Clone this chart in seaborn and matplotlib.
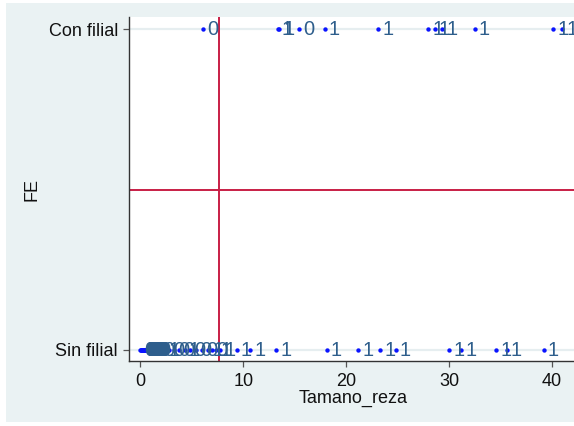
import numpy as np
import pandas as pd
import matplotlib
matplotlib.use("Agg")
import matplotlib.pyplot as plt
import seaborn as sns

# Firm size (Tamano_reza) for firms without a subsidiary (FE = 0)
sin_filial_x = [0.0, 0.05, 0.1, 0.15, 0.2, 0.25, 0.3, 0.35, 0.4, 0.45, 0.5, 0.55,
                0.6, 0.65, 0.7, 0.75, 0.8, 0.85, 0.9, 0.95, 1.0, 1.05, 1.1, 1.15,
                1.2, 1.3, 1.4, 1.8, 2.3, 2.8, 3.3, 3.8, 4.3, 4.8, 5.4,
                6.0, 6.6, 7.0, 7.35, 7.75, 9.35, 10.7, 13.2, 18.1, 21.2,
                23.3, 24.8, 30.0, 31.2, 34.6, 35.6, 39.2]
sin_filial_lab = [0, 0, 0, 0, 0, 0, 0, 0, 0, 0, 0, 0,
                  0, 0, 0, 0, 0, 0, 0, 0, 0, 0, 0, 0,
                  0, 0, 0, 0, 1, 0, 0, 0, 1, 0, 0,
                  0, 1, 0, 1, 1, 1, 1, 1, 1, 1,
                  1, 1, 1, 1, 1, 1, 1]

# Firm size for firms with a subsidiary (FE = 1)
con_filial_x = [6.1, 13.35, 13.5, 15.4, 17.9, 23.1, 28.0, 28.6, 29.3, 32.5, 40.1, 41.0]
con_filial_lab = [0, 1, 1, 0, 1, 1, 1, 1, 1, 1, 1, 1]

fe_ticks = [0, 1]
fe_ticklabels = ["Sin filial", "Con filial"]
x_ticks = [0, 10, 20, 30, 40]

# Reference lines
x_ref = 7.65
y_ref = 0.5

df = pd.DataFrame({
    "Tamano_reza": sin_filial_x + con_filial_x,
    "FE": [0] * len(sin_filial_x) + [1] * len(con_filial_x),
    "lab": sin_filial_lab + con_filial_lab,
})

sns.set_style("white")
plt.rcParams["font.family"] = ["Liberation Sans", "DejaVu Sans"]

W, H = 574, 426
fig = plt.figure(figsize=(W / 100, H / 100), dpi=100, facecolor="white")

# Graph region background
bg = plt.Rectangle((6 / W, (H - 421.7) / H), 1 - 6 / W, (421.7 - 3) / H,
                   transform=fig.transFigure, facecolor="#eaf2f3",
                   edgecolor="none", zorder=-10)
fig.patches.append(bg)

left, right = 129 / W, 1.0
bottom, top = (H - 360.7) / H, (H - 17.3) / H
ax = fig.add_axes([left, bottom, right - left, top - bottom])
ax.set_zorder(1)
ax.set_facecolor("white")

# horizontal grid lines
for yv in fe_ticks:
    ax.axhline(yv, color="#e6eef0", lw=1.6, zorder=0.5)

ax.axvline(x_ref, color="#c81e45", lw=1.4, zorder=1)
ax.axhline(y_ref, color="#c81e45", lw=1.4, zorder=1)

sns.scatterplot(data=df, x="Tamano_reza", y="FE", color="#0a14ff", s=10,
                linewidth=0, ax=ax, zorder=3, legend=False)

for xv, yv, lab in zip(df["Tamano_reza"], df["FE"], df["lab"]):
    ax.annotate(str(lab), (xv, yv), xytext=(3.0, -0.3), textcoords="offset points",
                ha="left", va="center", fontsize=14.5, color="#2e5e8c", zorder=4,
                annotation_clip=False)

ax.set_xlim(-1.1, 42.14)
ax.set_ylim(-0.0334, 1.0374)
ax.set_xticks(x_ticks)
ax.set_xticklabels([str(t) for t in x_ticks])
ax.set_yticks(fe_ticks)
ax.set_yticklabels(fe_ticklabels)

for s in ["top", "right"]:
    ax.spines[s].set_visible(False)
for s in ["left", "bottom"]:
    ax.spines[s].set_color("#333333")
    ax.spines[s].set_linewidth(1.0)

ax.tick_params(axis="both", which="major", length=4.5, width=0.9, color="#555555",
               labelsize=13, labelcolor="#111111", direction="out",
               left=True, bottom=True)
ax.tick_params(axis="x", pad=4)
ax.tick_params(axis="y", pad=3.5)

ax.set_xlabel("Tamano_reza", fontsize=13, color="#111111")
ax.set_ylabel("FE", fontsize=13, color="#111111")
ax.xaxis.set_label_coords((353 - 129) / (W - 129), -0.085)
ax.yaxis.set_label_coords((40 - 129) / (W - 129), 0.5)

fig.savefig("out.png", dpi=100, facecolor="white")
